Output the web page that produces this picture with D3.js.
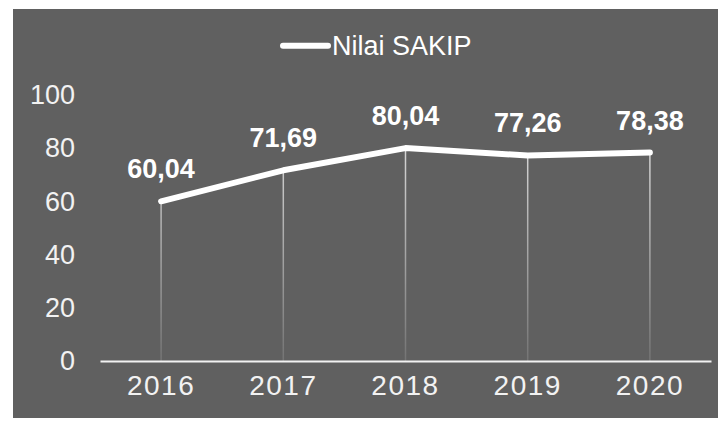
<!DOCTYPE html>
<html>
<head>
<meta charset="utf-8">
<script src="https://cdn.jsdelivr.net/npm/d3@7"></script>
<style>
  body { margin: 0; background: #fff; }
  svg { display: block; font-family: "Liberation Sans", Arial, sans-serif; }
</style>
</head>
<body>
<div id="chart"></div>
<script>
// data
const years = ["2016", "2017", "2018", "2019", "2020"];
const nilai = [60.04, 71.69, 80.04, 77.26, 78.38];
const yTicks = [0, 20, 40, 60, 80, 100];
const seriesName = "Nilai SAKIP";

const data = years.map((y, i) => ({ year: y, value: nilai[i] }));

const W = 718, H = 421;
const svg = d3.select("#chart").append("svg")
    .attr("width", W)
    .attr("height", H);

// grey panel
svg.append("rect")
    .attr("x", 13).attr("y", 9)
    .attr("width", W - 13).attr("height", 409)
    .attr("fill", "#606060");

const xScale = d3.scaleBand()
    .domain(years)
    .range([100, 711]);

const yScale = d3.scaleLinear()
    .domain([0, 100])
    .range([361, 95]);

// fading drop lines
const defs = svg.append("defs");
const grad = defs.append("linearGradient")
    .attr("id", "dropGrad")
    .attr("gradientUnits", "userSpaceOnUse")
    .attr("x1", 0).attr("y1", 140).attr("x2", 0).attr("y2", 360);
grad.append("stop").attr("offset", "0%").attr("stop-color", "#d9d9d9");
grad.append("stop").attr("offset", "100%").attr("stop-color", "#747474");

const cx = d => xScale(d.year) + xScale.bandwidth() / 2;

svg.selectAll(".drop")
    .data(data)
    .enter()
    .append("line")
    .attr("class", "drop")
    .attr("x1", cx).attr("x2", cx)
    .attr("y1", d => yScale(d.value))
    .attr("y2", yScale(0))
    .attr("stroke", "url(#dropGrad)")
    .attr("stroke-width", 1.5);

// y axis labels (no axis line)
const yAxis = svg.append("g")
    .attr("transform", "translate(75,0)")
    .call(d3.axisLeft(yScale).tickValues(yTicks).tickSize(0).tickPadding(0));
yAxis.select(".domain").remove();
yAxis.selectAll("text")
    .attr("fill", "#f2f2f2")
    .attr("font-size", 27)
    .attr("font-family", "Liberation Sans, Arial, sans-serif");

// x axis
const xAxis = svg.append("g")
    .attr("transform", `translate(0,${yScale(0)})`)
    .call(d3.axisBottom(xScale).tickSize(0).tickPadding(14));
xAxis.select(".domain")
    .attr("stroke", "#f2f2f2")
    .attr("stroke-width", 2.2);
xAxis.selectAll("text")
    .attr("fill", "#f2f2f2")
    .attr("font-size", 28)
    .attr("letter-spacing", 1.5)
    .attr("font-family", "Liberation Sans, Arial, sans-serif");

// line
const line = d3.line()
    .x(cx)
    .y(d => yScale(d.value));

svg.append("path")
    .datum(data)
    .attr("d", line)
    .attr("fill", "none")
    .attr("stroke", "#ffffff")
    .attr("stroke-width", 6)
    .attr("stroke-linecap", "round")
    .attr("stroke-linejoin", "round");

// value labels
svg.selectAll(".val")
    .data(data)
    .enter()
    .append("text")
    .attr("class", "val")
    .attr("x", cx)
    .attr("y", d => yScale(d.value) - 23)
    .attr("text-anchor", "middle")
    .attr("font-size", 27)
    .attr("font-weight", "bold")
    .attr("fill", "#ffffff")
    .text(d => d.value.toFixed(2).replace(".", ","));

// legend
svg.append("line")
    .attr("x1", 283).attr("x2", 328)
    .attr("y1", 45.7).attr("y2", 45.7)
    .attr("stroke", "#ffffff")
    .attr("stroke-width", 6)
    .attr("stroke-linecap", "round");
svg.append("text")
    .attr("x", 332)
    .attr("y", 54.7)
    .attr("font-size", 27)
    .attr("fill", "#ffffff")
    .text(seriesName);
</script>
</body>
</html>
